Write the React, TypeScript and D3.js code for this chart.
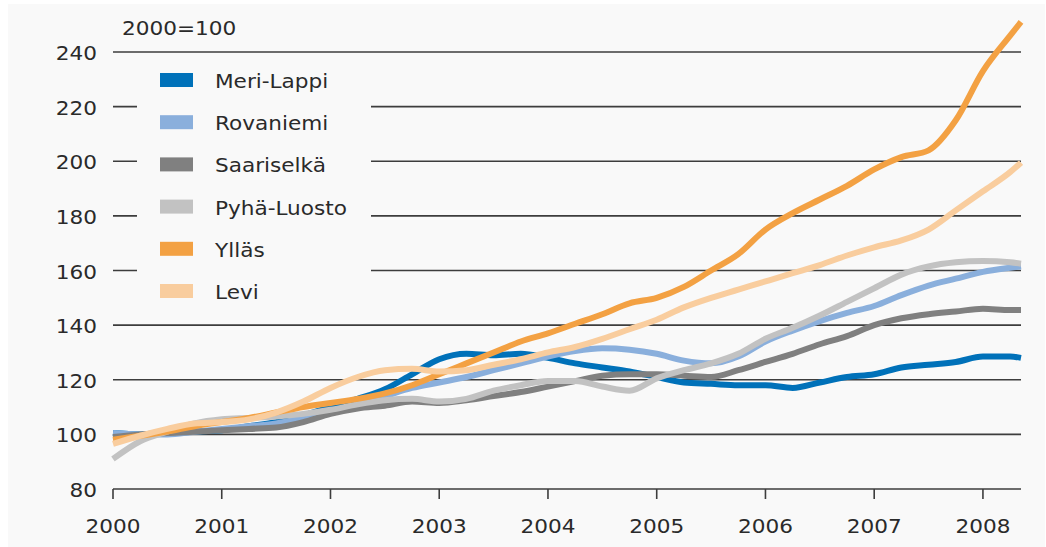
import React from "react";
import * as d3 from "d3";

const times: number[] = [
  2000.0, 2000.25, 2000.5, 2000.75, 2001.0, 2001.25, 2001.5, 2001.75,
  2002.0, 2002.25, 2002.5, 2002.75, 2003.0, 2003.25, 2003.5, 2003.75,
  2004.0, 2004.25, 2004.5, 2004.75, 2005.0, 2005.25, 2005.5, 2005.75,
  2006.0, 2006.25, 2006.5, 2006.75, 2007.0, 2007.25, 2007.5, 2007.75,
  2008.0, 2008.25, 2008.35,
];

const meriLappi = [100.5, 100, 100.5, 101, 101.5, 103, 104.5, 107, 110, 113, 116.5, 122, 127.5, 129.5, 129, 129.5, 128, 126, 124.5, 123, 121, 119, 118.5, 118, 118, 117, 119, 121, 122, 124.5, 125.5, 126.5, 128.5, 128.5, 128];
const rovaniemi = [100.5, 100, 100, 101, 102, 103, 104, 106, 108.5, 111, 114, 117, 119, 121, 123.5, 126, 128.5, 130.5, 131.5, 131, 129.5, 127, 126, 128.5, 134, 138, 141.5, 144.5, 147, 151, 154.5, 157, 159.5, 161, 161.5];
const saariselka = [99, 100, 100.5, 101, 101.5, 102, 102.5, 104.5, 107.5, 109.5, 110.5, 112, 111.5, 112.5, 114, 115.5, 117.5, 119.5, 121.5, 122, 122, 121.5, 121, 123.5, 126.5, 129.5, 133, 136, 140, 142.5, 144, 145, 146, 145.5, 145.5];
const pyhaLuosto = [91, 97.5, 101, 104, 105.5, 106, 106.5, 107.5, 109, 111, 112.5, 113, 112, 113, 116, 118, 119.5, 119.5, 117.5, 116, 120.5, 123.5, 126, 129.5, 135, 139, 143.5, 148.5, 153.5, 158.5, 161.5, 163, 163.5, 163, 162.5];
const yllas = [98, 99.5, 101, 103, 104.5, 106, 108, 110, 111.5, 113, 115, 118, 122, 126, 130, 134, 137, 140.5, 144, 148, 150, 154, 160, 166, 175, 181, 186, 191, 197, 201.5, 204, 215, 233, 246, 251];
const levi = [96.5, 99.5, 102, 104, 104.5, 105.5, 108, 112, 117, 121, 123.5, 124, 123, 123.5, 125.5, 127.5, 130, 132, 135, 138.5, 142, 146.5, 150, 153, 156, 159, 162, 165.5, 168.5, 171, 175, 182, 189, 196, 199.5];

const seriesNames = ["Meri-Lappi", "Rovaniemi", "Saariselkä", "Pyhä-Luosto", "Ylläs", "Levi"];
const seriesValues = [meriLappi, rovaniemi, saariselka, pyhaLuosto, yllas, levi];
const seriesColors = ["#0071b9", "#8aafdc", "#808080", "#c2c2c2", "#f3a143", "#f9cd9e"];

const yTicks = [80, 100, 120, 140, 160, 180, 200, 220, 240];
const xTicks = [2000, 2001, 2002, 2003, 2004, 2005, 2006, 2007, 2008];
const unitLabel = "2000=100";

const W = 1046;
const H = 547;
const FONT = "'DejaVu Sans', Verdana, sans-serif";
const SX = 1.08;

export default function App() {
  const x = d3.scaleLinear().domain([2000, 2008.35]).range([113, 1021]);
  const y = d3.scaleLinear().domain([80, 240]).range([489, 52]);
  const line = d3
    .line<number>()
    .x((_, i) => x(times[i]))
    .y((v) => y(v))
    .curve(d3.curveMonotoneX);

  const txt = (
    key: string,
    tx: number,
    ty: number,
    s: string,
    anchor: "start" | "middle" | "end",
    size = 20
  ) => (
    <text
      key={key}
      transform={`translate(${tx},${ty}) scale(${SX},1)`}
      textAnchor={anchor}
      fontFamily={FONT}
      fontSize={size}
      fill="#2a2a2a"
    >
      {s}
    </text>
  );

  return (
    <svg
      width={W}
      height={H}
      style={{ position: "absolute", left: 0, top: 0 }}
    >
      <rect x={0} y={0} width={W} height={H} fill="#ffffff" />
      <rect x={8} y={4} width={W - 9} height={H - 4} fill="#f9f9f9" />

      {txt("unit", 122, 35, unitLabel, "start")}

      {yTicks.map((t) => (
        <line
          key={"g" + t}
          x1={x(2000)}
          x2={x(2008.35)}
          y1={y(t)}
          y2={y(t)}
          stroke="#3d3d3d"
          strokeWidth={1.6}
        />
      ))}
      {yTicks.map((t) => txt("yl" + t, 97, y(t) + 8, String(t), "end"))}

      {xTicks.map((t) => (
        <line
          key={"xt" + t}
          x1={x(t)}
          x2={x(t)}
          y1={y(80)}
          y2={y(80) + 10}
          stroke="#3d3d3d"
          strokeWidth={1.6}
        />
      ))}
      {xTicks.map((t) => txt("xl" + t, x(t), 533, String(t), "middle"))}

      <rect x={137} y={62} width={234} height={250} fill="#f9f9f9" />

      {seriesValues.map((vals, i) => (
        <path
          key={"s" + i}
          d={line(vals) || ""}
          fill="none"
          stroke={seriesColors[i]}
          strokeWidth={6}
          strokeLinejoin="round"
        />
      ))}

      {seriesNames.map((n, i) => (
        <g key={"lg" + i}>
          <rect
            x={160}
            y={73 + i * 42.2}
            width={33}
            height={14}
            fill={seriesColors[i]}
          />
          {txt("lt" + i, 215, 88 + i * 42.2, n, "start")}
        </g>
      ))}
    </svg>
  );
}
